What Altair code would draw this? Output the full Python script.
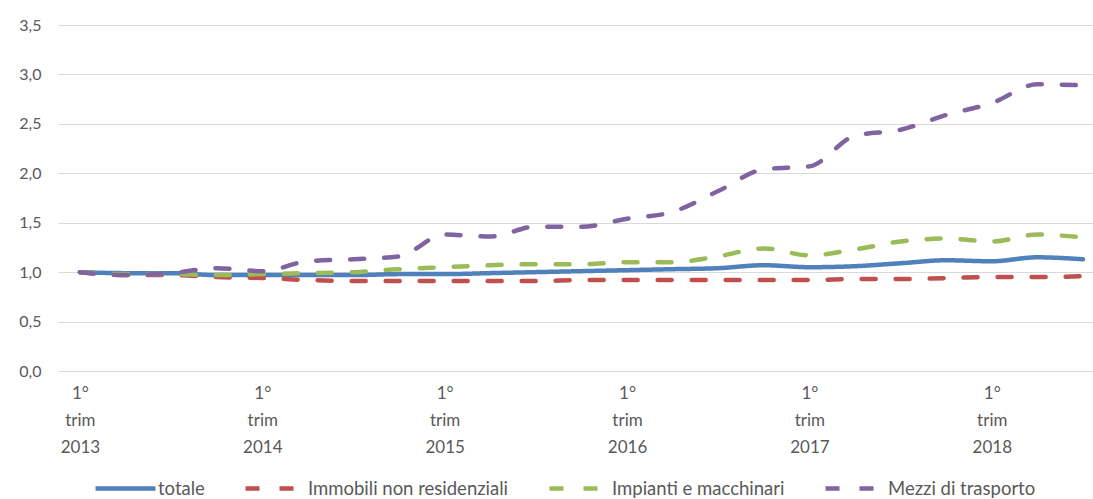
import altair as alt
import pandas as pd

quarters = list(range(23))  # 1° trim 2013 .. 3° trim 2018
series_names = ["totale", "Immobili non residenziali", "Impianti e macchinari", "Mezzi di trasporto"]
totale = [1.00, 0.99, 0.99, 0.97, 0.97, 0.97, 0.97, 0.98, 0.98, 0.99, 1.00, 1.01,
          1.02, 1.03, 1.04, 1.07, 1.05, 1.06, 1.09, 1.12, 1.11, 1.15, 1.13]
immobili = [1.00, 0.97, 0.97, 0.95, 0.94, 0.92, 0.91, 0.91, 0.91, 0.91, 0.91, 0.92,
            0.92, 0.92, 0.92, 0.92, 0.92, 0.93, 0.93, 0.94, 0.95, 0.95, 0.96]
impianti = [1.00, 0.98, 0.98, 0.97, 0.98, 0.99, 1.00, 1.03, 1.05, 1.07, 1.08, 1.08,
            1.10, 1.10, 1.16, 1.24, 1.17, 1.23, 1.31, 1.34, 1.31, 1.38, 1.35]
mezzi = [1.00, 0.97, 0.99, 1.04, 1.01, 1.11, 1.13, 1.16, 1.38, 1.36, 1.46, 1.46,
         1.54, 1.61, 1.82, 2.04, 2.07, 2.38, 2.44, 2.59, 2.71, 2.90, 2.89]
colors = ["#4F81BD", "#C0504D", "#9BBB59", "#8064A2"]
y_ticks = [0, 0.5, 1, 1.5, 2, 2.5, 3, 3.5]
x_ticks = [0, 4, 8, 12, 16, 20]

rows = []
for name, vals in zip(series_names, [totale, immobili, impianti, mezzi]):
    for q, v in zip(quarters, vals):
        rows.append({"q": q, "serie": name, "valore": v, "ord": series_names.index(name)})
df = pd.DataFrame(rows)

legend_cfg = dict(title=None, orient="none", direction="horizontal",
                  legendX=35, legendY=431, padding=0,
                  symbolType="stroke", symbolSize=3600,
                  symbolStrokeWidth=4.5, labelFontSize=18.5, labelLimit=400,
                  labelFont="Lato", labelColor="#595959",
                  labelOffset=0, columnPadding=31)

chart = alt.Chart(df).mark_line(
    strokeWidth=4.5, strokeCap="round", interpolate="monotone"
).encode(
    x=alt.X("q:Q",
            scale=alt.Scale(domain=[-0.48, 22.22], nice=False, zero=False),
            axis=alt.Axis(values=x_ticks, grid=False, domain=False, ticks=False,
                          title=None, labelPadding=14, labelLineHeight=27,
                          labelFontSize=17, labelColor="#595959", labelFont="Lato",
                          labelExpr="['1°', 'trim', '' + (2013 + datum.value / 4)]")),
    y=alt.Y("valore:Q",
            scale=alt.Scale(domain=[0, 3.5], nice=False),
            axis=alt.Axis(values=y_ticks, domain=False, ticks=False, title=None,
                          gridColor="#d9d9d9", gridWidth=1.2, labelPadding=17,
                          labelFontSize=16, labelColor="#595959", labelFont="Lato",
                          labelExpr="replace(format(datum.value, '.1f'), '.', ',')")),
    color=alt.Color("serie:N",
                    scale=alt.Scale(domain=series_names, range=colors),
                    legend=alt.Legend(**legend_cfg)),
    strokeDash=alt.StrokeDash("serie:N",
                              scale=alt.Scale(domain=series_names,
                                              range=[[1, 0], [14, 20], [14, 20], [14, 20]]),
                              legend=alt.Legend(**legend_cfg)),
    order=alt.Order("ord:Q"),
).properties(
    width=1035, height=346,
    background="white",
    autosize=alt.AutoSizeParams(type="none"),
    padding={"left": 58, "top": 25, "right": 0, "bottom": 128},
).configure_view(stroke=None)

chart.save("out.html", embed_options={"renderer": "svg", "actions": False})
